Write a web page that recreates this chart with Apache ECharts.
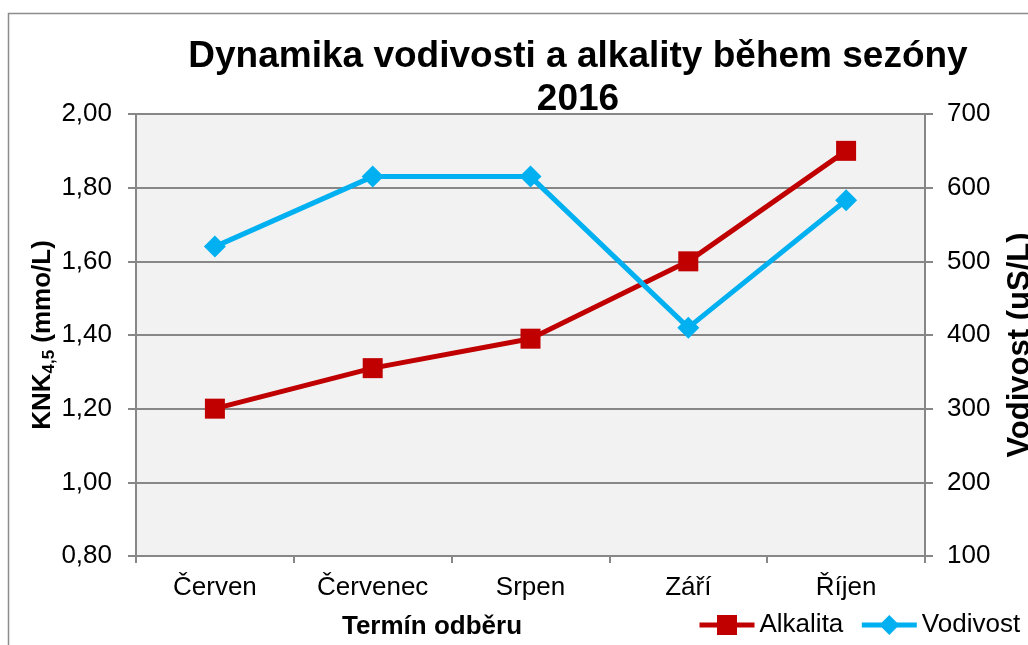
<!DOCTYPE html>
<html>
<head>
<meta charset="utf-8">
<script src="https://cdn.jsdelivr.net/npm/echarts@6/dist/echarts.min.js"></script>
<style>
html,body{margin:0;padding:0;background:#fff;}
#c{width:1028px;height:645px;}
</style>
</head>
<body>
<div id="c"></div>
<script>
const categories = ['Červen', 'Červenec', 'Srpen', 'Září', 'Říjen'];
const alkalita = [1.20, 1.31, 1.39, 1.60, 1.90];
const vodivost = [520, 615, 615, 410, 583];
const leftAxisRange = [0.8, 2.0, 0.2];
const rightAxisRange = [100, 700, 100];

const FONT = 'Liberation Sans, Arial, sans-serif';
const GRAY = '#878787';

const chart = echarts.init(document.getElementById('c'));
chart.setOption({
  animation: false,
  backgroundColor: '#ffffff',
  textStyle: { fontFamily: FONT },
  title: {
    text: 'Dynamika vodivosti a alkality během sezóny\n2016',
    left: 573, top: 30, textAlign: 'center',
    textStyle: { fontFamily: FONT, fontSize: 37, fontWeight: 'bold', color: '#000', lineHeight: 43 }
  },
  graphic: [{
    type: 'rect', silent: true, z: -1,
    shape: { x: 8.5, y: 13.5, width: 1100, height: 700 },
    style: { fill: null, stroke: '#8c8c8c', lineWidth: 1.5 }
  }],
  legend: {
    left: 697, top: 612, padding: 0,
    itemWidth: 55, itemHeight: 25, itemGap: 16,
    lineStyle: { width: 5 },
    textStyle: { fontFamily: FONT, fontSize: 26, color: '#000' },
    data: ['Alkalita', 'Vodivost']
  },
  grid: {
    left: 136, right: 103, top: 114, bottom: 89,
    outerBoundsMode: 'none', containLabel: false,
    show: true, backgroundColor: '#f2f2f2', borderWidth: 0
  },
  xAxis: {
    type: 'category', data: categories, boundaryGap: true,
    name: 'Termín odběru', nameLocation: 'middle', nameGap: 58,
    nameTextStyle: { fontFamily: FONT, fontSize: 26, fontWeight: 'bold', color: '#000', padding: [0, 197, 0, 0] },
    axisLine: { lineStyle: { color: GRAY, width: 2 } },
    axisTick: { show: true, length: 7, inside: false, lineStyle: { color: GRAY, width: 2 } },
    axisLabel: { fontFamily: FONT, fontSize: 26, color: '#000', margin: 19 },
    splitLine: { show: false }
  },
  yAxis: [{
    type: 'value', position: 'left',
    min: leftAxisRange[0], max: leftAxisRange[1], interval: leftAxisRange[2],
    name: '{b|KNK}{s|4,5}{b| (mmo/L)}', nameLocation: 'middle', nameRotate: 90, nameGap: 78,
    nameMoveOverlap: false,
    nameTextStyle: {
      rich: {
        b: { fontFamily: FONT, fontSize: 26, fontWeight: 'bold', color: '#000', lineHeight: 30 },
        s: { fontFamily: FONT, fontSize: 17, fontWeight: 'bold', color: '#000', verticalAlign: 'bottom', lineHeight: 18 }
      }
    },
    axisLine: { show: true, lineStyle: { color: GRAY, width: 2 } },
    axisTick: { show: true, length: 8, lineStyle: { color: GRAY, width: 2 } },
    axisLabel: {
      fontFamily: FONT, fontSize: 26, color: '#000', margin: 24,
      formatter: v => v.toFixed(2).replace('.', ',')
    },
    splitLine: { show: true, lineStyle: { color: GRAY, width: 2 } }
  }, {
    type: 'value', position: 'right',
    min: rightAxisRange[0], max: rightAxisRange[1], interval: rightAxisRange[2],
    name: 'Vodivost (uS/L)', nameLocation: 'middle', nameRotate: 90, nameGap: 80,
    nameTextStyle: { fontFamily: FONT, fontSize: 31, fontWeight: 'bold', color: '#000', padding: [0, 20, 0, 0] },
    axisLine: { show: true, lineStyle: { color: GRAY, width: 2 } },
    axisTick: { show: true, length: 8, lineStyle: { color: GRAY, width: 2 } },
    axisLabel: { fontFamily: FONT, fontSize: 26, color: '#000', margin: 22 },
    splitLine: { show: false }
  }],
  series: [{
    name: 'Alkalita', type: 'line', yAxisIndex: 0, data: alkalita,
    color: '#C00000',
    lineStyle: { width: 5, color: '#C00000' },
    symbol: 'rect', symbolSize: 20,
    itemStyle: { color: '#C00000' }
  }, {
    name: 'Vodivost', type: 'line', yAxisIndex: 1, data: vodivost,
    color: '#00B0F0',
    lineStyle: { width: 5, color: '#00B0F0' },
    symbol: 'diamond', symbolSize: 22,
    itemStyle: { color: '#00B0F0' }
  }]
});
</script>
</body>
</html>
